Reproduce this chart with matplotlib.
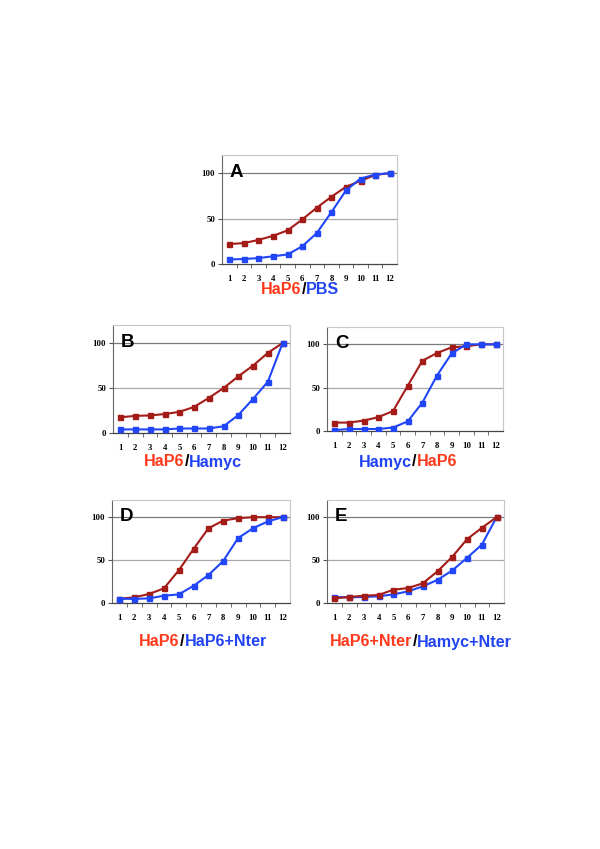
import numpy as np
import matplotlib
matplotlib.use("Agg")
import matplotlib.pyplot as plt

# data (percent)
x = list(range(1, 13))

a_red = [22, 23, 26.5, 31, 37, 49, 62, 74, 85, 91.5, 98, 100]
a_blue = [5, 5.5, 6.5, 8.5, 10.5, 19.5, 34, 57, 81, 94, 98.5, 100]

b_red = [17.5, 19, 19.5, 21, 23.5, 29, 39, 50, 63, 75, 89, 100]
b_blue = [4, 4, 4, 4, 5, 5, 5, 7.5, 20, 38, 57, 100]

c_red = [9.7, 9.7, 12, 16, 23, 52, 81, 90, 96.5, 97.7, 100, 100]
c_blue = [1, 2.3, 2.3, 2.3, 4, 11, 32.7, 64, 89.5, 100, 100, 100]

d_red = [5, 6.6, 10.5, 17, 38, 63, 87, 96, 98.8, 100, 100, 100]
d_blue = [5, 4.7, 5.4, 8.5, 10, 20, 32.5, 49, 75.6, 87, 95, 100]

e_red = [5.4, 7, 8.5, 9.3, 15.5, 17.4, 23, 37, 54, 74.4, 87.6, 100]
e_blue = [7, 6.6, 7, 7.8, 10, 13.6, 19.4, 27, 38, 52.7, 68, 100]

RED_LINE = '#A31C18'
BLUE_LINE = '#2046F8'
RED_TXT = '#FF3A1C'
BLUE_TXT = '#2244F2'

W, H = 600, 849
fig = plt.figure(figsize=(6, 8.49), dpi=100)


def make_ax(x0, y0, x1, y1):
    return fig.add_axes([x0 / W, 1 - y1 / H, (x1 - x0) / W, (y1 - y0) / H])


def panel(ax, letter, red, blue, blue_on_top=True):
    ax.set_xlim(0.5, 12.5)
    ax.set_ylim(0, 120)
    ax.axhline(50, color='#A8A8A8', lw=0.9, zorder=1)
    ax.axhline(100, color='#7A7A7A', lw=0.9, zorder=1)
    zr, zb = (2, 3) if blue_on_top else (3, 2)
    ax.plot(x, red, color=RED_LINE, lw=1.5, marker='s', ms=3.6, zorder=zr)
    ax.plot(x, blue, color=BLUE_LINE, lw=1.5, marker='s', ms=3.6, zorder=zb)
    ax.set_yticks([0, 50, 100])
    ax.set_yticklabels(['0', '50', '100'])
    ax.set_xticks(x)
    ax.set_xticks(np.arange(1.5, 12.5, 1), minor=True)
    ax.tick_params(axis='x', which='major', length=0, pad=8)
    ax.tick_params(axis='x', which='minor', length=3, color='#555555', direction='out')
    ax.tick_params(axis='y', length=3, color='#555555', pad=2)
    for lab in ax.get_xticklabels() + ax.get_yticklabels():
        lab.set_fontfamily('Liberation Serif')
        lab.set_fontweight('bold')
        lab.set_fontsize(6.3)
    for s in ['top', 'right']:
        ax.spines[s].set_color('#C8C8C8')
        ax.spines[s].set_linewidth(0.8)
    ax.spines['left'].set_color('#666666')
    ax.spines['left'].set_linewidth(0.8)
    ax.spines['bottom'].set_color('#444444')
    ax.spines['bottom'].set_linewidth(0.9)
    ax.text(0.045, 0.92, letter, transform=ax.transAxes, ha='left', va='top',
            fontsize=13.5, fontweight='bold', family='Liberation Sans', zorder=5)


def caption(cx, cy, parts):
    # parts: list of (text, color); drawn side by side, centred on cx
    r = fig.canvas.get_renderer()
    texts = []
    widths = []
    for s, c in parts:
        t = fig.text(0, 0, s, color=c, fontsize=11.6, fontweight='bold',
                     family='Liberation Sans', ha='left', va='center')
        widths.append(t.get_window_extent(renderer=r).width)
        texts.append(t)
    total = sum(widths)
    xpos = cx - total / 2
    for t, w in zip(texts, widths):
        t.set_position((xpos / W, 1 - cy / H))
        xpos += w


axA = make_ax(222, 155, 397, 264)
panel(axA, 'A', a_red, a_blue)
caption(300, 290, [('HaP6', RED_TXT), ('/', 'black'), ('PBS', BLUE_TXT)])

axB = make_ax(113, 325, 290, 433)
panel(axB, 'B', b_red, b_blue)
caption(193, 462, [('HaP6', RED_TXT), ('/', 'black'), ('Hamyc', BLUE_TXT)])

axC = make_ax(327, 327, 503, 431)
panel(axC, 'C', c_red, c_blue)
caption(408, 462, [('Hamyc', BLUE_TXT), ('/', 'black'), ('HaP6', RED_TXT)])

axD = make_ax(112, 500, 290, 603)
panel(axD, 'D', d_red, d_blue)
caption(203, 642, [('HaP6', RED_TXT), ('/', 'black'), ('HaP6+Nter', BLUE_TXT)])

axE = make_ax(327, 500, 504, 603)
panel(axE, 'E', e_red, e_blue, blue_on_top=False)
caption(421, 642, [('HaP6+Nter', RED_TXT), ('/', 'black'), ('Hamyc+Nter', BLUE_TXT)])

fig.savefig('out.png', dpi=100)
